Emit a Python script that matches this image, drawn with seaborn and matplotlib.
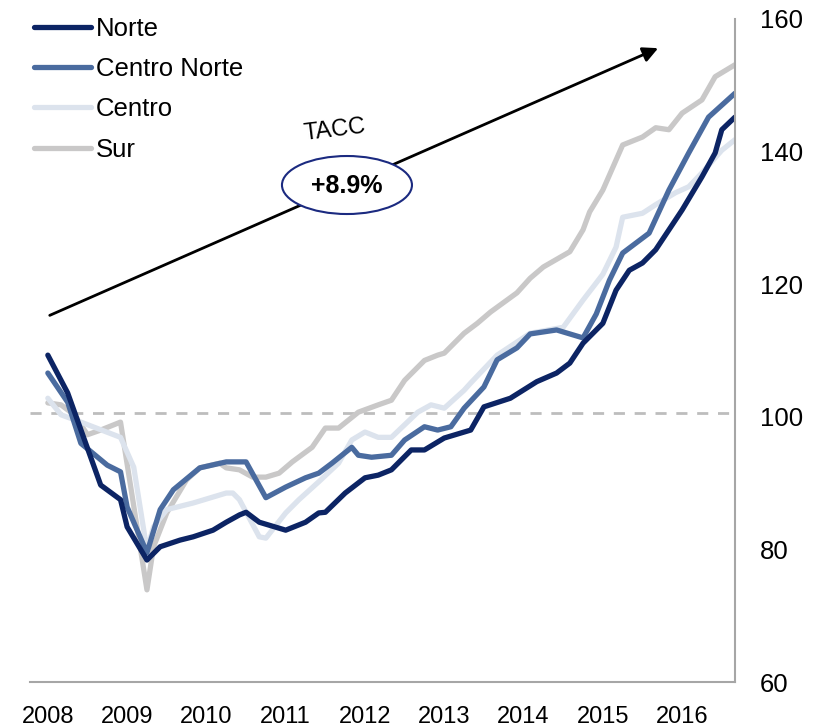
import matplotlib
matplotlib.use("Agg")
import matplotlib.pyplot as plt
from matplotlib.patches import Ellipse
from matplotlib.lines import Line2D
import seaborn as sns
import pandas as pd

# Data (x = months since Jan 2008)
norte_mes = [0, 3, 8, 11, 12, 15, 17, 20, 22, 25, 27, 29, 30, 32, 36, 39, 41, 42, 45, 48, 50, 52,
             55, 57, 59, 60, 64, 66, 70, 74, 77, 79, 81, 84, 86, 88, 90, 92, 96, 99, 101, 102, 104]
norte_val = [109.3, 103.6, 89.7, 87.5, 83.4, 78.4, 80.4, 81.4, 81.9, 82.9, 84.1, 85.2, 85.6, 84.1,
             82.9, 84.1, 85.5, 85.6, 88.5, 90.8, 91.2, 92.0, 95.0, 95.0, 96.2, 96.8, 98.0, 101.5,
             102.8, 105.3, 106.6, 108.1, 111.1, 114.1, 119.1, 122.1, 123.2, 125.2, 131.2, 136.2,
             139.8, 143.3, 145.2]

cnorte_mes = [0, 3, 5, 9, 11, 12, 15, 17, 19, 23, 27, 30, 33, 36, 39, 41, 43, 46, 47, 49, 52, 54,
              57, 59, 61, 63, 66, 68, 71, 73, 77, 81, 83, 85, 87, 91, 94, 97, 100, 104]
cnorte_val = [106.6, 102.2, 96.0, 92.7, 91.7, 86.4, 79.5, 86.0, 89.0, 92.3, 93.2, 93.2, 87.8, 89.4,
              90.8, 91.5, 93.0, 95.4, 94.2, 93.9, 94.2, 96.5, 98.5, 98.0, 98.5, 101.3, 104.5, 108.6,
              110.4, 112.5, 113.1, 111.9, 115.5, 120.6, 124.7, 127.7, 134.2, 139.8, 145.2, 148.8]

centro_mes = [0, 2, 5, 11, 13, 15, 16, 18, 22, 27, 28, 29, 32, 33, 36, 38, 41, 44, 46, 48, 50, 52,
              54, 56, 58, 60, 63, 64, 68, 73, 78, 81, 84, 86, 87, 90, 92, 95, 97, 99, 102, 104]
centro_val = [102.8, 100.3, 99.2, 96.9, 92.4, 79.9, 83.4, 86.0, 87.0, 88.5, 88.5, 87.5, 81.9, 81.7,
              85.5, 87.5, 90.2, 93.0, 96.5, 97.7, 96.9, 96.9, 98.8, 100.7, 101.8, 101.3, 104.0,
              105.1, 109.3, 112.6, 113.5, 117.6, 121.5, 125.6, 130.1, 130.7, 132.0, 133.8, 134.7,
              136.8, 140.2, 141.8]

sur_mes = [0, 2, 4, 6, 8, 11, 15, 16, 18, 21, 23, 26, 27, 29, 31, 33, 35, 37, 40, 42, 44, 47, 50,
           52, 54, 57, 59, 60, 63, 65, 67, 71, 73, 75, 79, 81, 82, 84, 87, 90, 92, 94, 96, 99, 101, 104]
sur_val = [102.1, 101.8, 100.3, 97.3, 98.0, 99.2, 73.9, 80.4, 85.5, 90.5, 92.3, 93.0, 92.3, 92.0,
           90.9, 90.9, 91.5, 93.2, 95.4, 98.3, 98.3, 100.7, 101.8, 102.5, 105.5, 108.5, 109.3,
           109.6, 112.6, 114.1, 115.8, 118.7, 120.9, 122.6, 124.9, 128.2, 130.9, 134.2, 141.0,
           142.2, 143.6, 143.3, 145.8, 147.8, 151.3, 153.1]

regiones = ["Norte", "Centro Norte", "Centro", "Sur"]
colores = ["#0c2464", "#4a6b9f", "#dce3ed", "#c9c8c8"]
anios = ["2008", "2009", "2010", "2011", "2012", "2013", "2014", "2015", "2016"]
base = 100.5
tacc = "+8.9%"

frames = []
for reg, mes, val in zip(regiones, [norte_mes, cnorte_mes, centro_mes, sur_mes],
                         [norte_val, cnorte_val, centro_val, sur_val]):
    frames.append(pd.DataFrame({"mes": mes, "valor": val, "region": reg}))
df = pd.concat(frames, ignore_index=True)

sns.set_style("white")
plt.rcParams["font.family"] = ["Liberation Sans", "DejaVu Sans"]
plt.rcParams["text.color"] = "black"
plt.rcParams["xtick.color"] = "black"
plt.rcParams["ytick.color"] = "black"

fig = plt.figure(figsize=(8.19, 7.28), dpi=100)
ax = fig.add_axes([30 / 819, 1 - 682 / 728, 705 / 819, 663 / 728])

ax.axhline(base, color="#bdbdbd", lw=2, ls=(0, (4, 3.5)), zorder=1)

sns.lineplot(data=df, x="mes", y="valor", hue="region", hue_order=regiones[::-1],
             palette=dict(zip(regiones, colores)), estimator=None, sort=True,
             lw=3.8, ax=ax, legend=False)

ax.set_xlim(-2.7, 104)
ax.set_ylim(60, 160)
ax.set_xlabel("")
ax.set_ylabel("")

# only right and bottom lines, no tick marks
for s in ["top", "left"]:
    ax.spines[s].set_visible(False)
for s in ["right", "bottom"]:
    ax.spines[s].set_color("#a6a6a6")
    ax.spines[s].set_linewidth(1.5)
ax.yaxis.tick_right()
ax.set_yticks([60, 80, 100, 120, 140, 160])
ax.set_xticks([12 * i for i in range(len(anios))])
ax.set_xticklabels(anios)
ax.tick_params(axis="y", length=0, pad=18, labelsize=18.5)
ax.tick_params(axis="x", length=0, pad=17, labelsize=17)

# Legend
handles = [Line2D([], [], color=c, lw=3.8) for c in colores]
fig.legend(handles, regiones, loc="upper left", bbox_to_anchor=(34 / 819, 1 - 17 / 728),
           frameon=False, fontsize=18.5, handlelength=2.2, handletextpad=0.2,
           labelspacing=0.63, borderpad=0, borderaxespad=0)

# Growth arrow + TACC label
ax.annotate("", xy=(0.891, 0.956), xytext=(0.028, 0.553), xycoords="axes fraction",
            arrowprops=dict(arrowstyle="-|>,head_length=0.9,head_width=0.45", color="black",
                            lw=2, shrinkA=0, shrinkB=0), zorder=5)
ax.add_patch(Ellipse((0.4496, 0.7496), 0.1844, 0.0875, transform=ax.transAxes,
                     facecolor="white", edgecolor="#1b2a80", lw=1.5, zorder=6))
ax.text(0.4496, 0.748, tacc, transform=ax.transAxes, ha="center", va="center",
        fontsize=18, fontweight="bold", zorder=7)
ax.text(0.4326, 0.832, "TACC", transform=ax.transAxes, ha="center", va="center",
        fontsize=17, rotation=7, zorder=7)

fig.savefig("out.png", dpi=100)
